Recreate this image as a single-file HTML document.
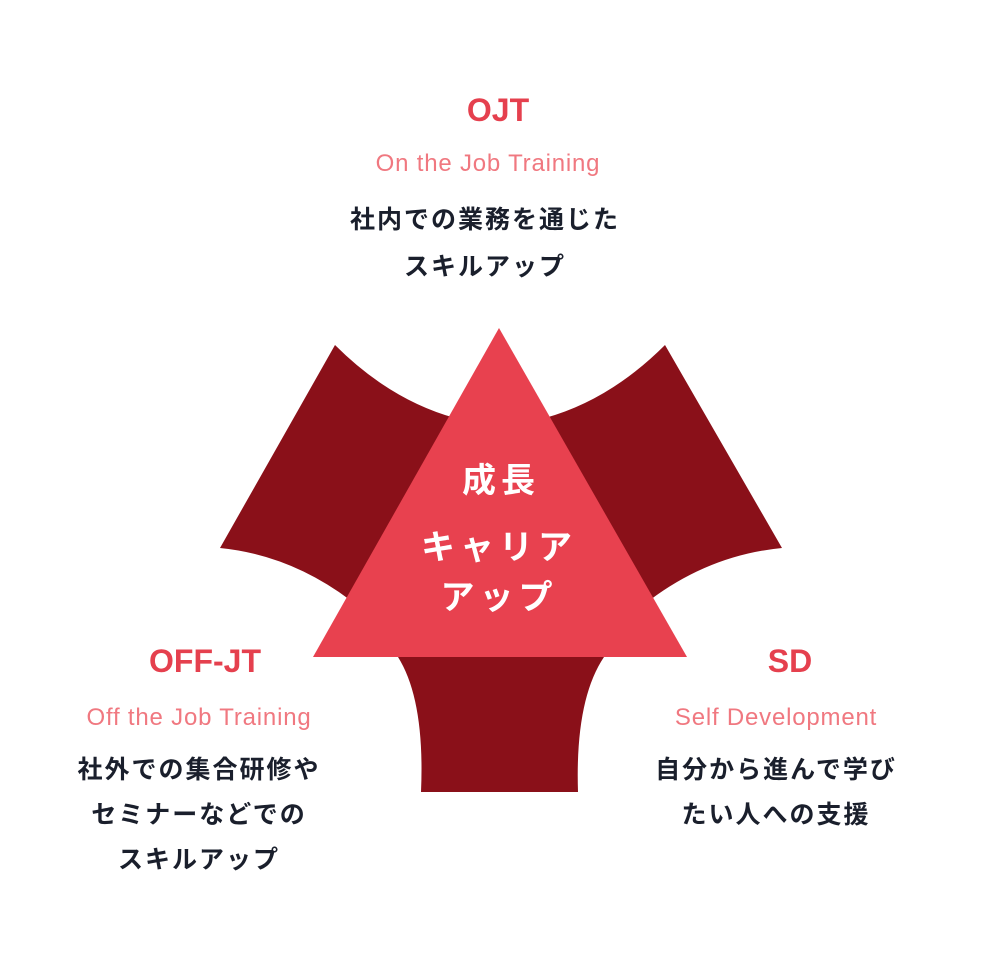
<!DOCTYPE html>
<html><head><meta charset="utf-8"><style>
body{margin:0;background:#fff;width:1000px;height:972px;overflow:hidden;position:relative;font-family:"Liberation Sans","Noto Sans CJK JP",sans-serif}
.t{position:absolute;text-align:center;white-space:nowrap;transform:translateX(-50%)}
.h{color:#e5404e;font-weight:bold;font-size:32px}
.s{color:#f07880;font-size:24px;letter-spacing:0.8px}
.j{color:#1a1f2c;font-weight:bold;font-size:25px;line-height:45px;letter-spacing:2px}
.c{color:#fff;font-weight:bold;font-size:34px;letter-spacing:5px}
</style></head><body>
<svg width="1000" height="972" style="position:absolute;left:0;top:0">
<path d="M335,345 Q390,400 455,418 L350,600 Q290,555 220,548 Z" fill="#8a1019"/>
<path d="M665,345 Q610,400 545,418 L650,600 Q710,555 782,548 Z" fill="#8a1019"/>
<path d="M398,657 L604,657 Q575,700 578,792 L421,792 Q425,700 398,657 Z" fill="#8a1019"/>
<polygon points="499,328 313,657 687,657" fill="#e8414f"/>
</svg>
<div class="t h" style="left:498px;top:92px">OJT</div>
<div class="t s" style="left:488px;top:150px">On the Job Training</div>
<div class="t j" style="left:485px;top:197px;line-height:47px">社内での業務を通じた<br>スキルアップ</div>
<div class="t h" style="left:205px;top:643px">OFF-JT</div>
<div class="t s" style="left:199px;top:704px">Off the Job Training</div>
<div class="t j" style="left:199px;top:748px">社外での集合研修や<br>セミナーなどでの<br>スキルアップ</div>
<div class="t h" style="left:790px;top:643px">SD</div>
<div class="t s" style="left:776px;top:704px">Self Development</div>
<div class="t j" style="left:776px;top:748px">自分から進んで学び<br>たい人への支援</div>
<div class="t c" style="left:501px;top:453px">成長</div>
<div class="t c" style="left:499px;top:523px;line-height:50px">キャリア<br>アップ</div>
</body></html>
